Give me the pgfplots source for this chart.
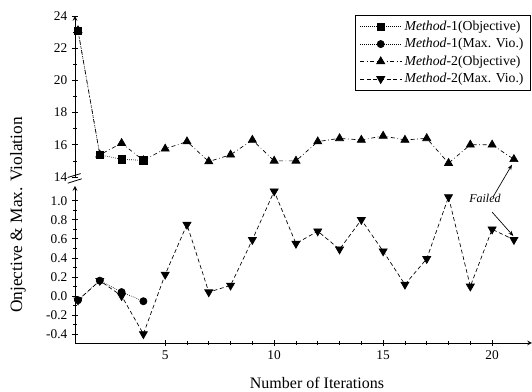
\documentclass[border=0pt]{standalone}
\usepackage{fontspec}
\setmainfont{Liberation Serif}
\usepackage{pgfplots}
\pgfplotsset{compat=1.18}
\usetikzlibrary{arrows.meta}
\begin{document}
\begin{tikzpicture}
\useasboundingbox (0,0) rectangle (399pt,294pt);
\pgfplotsset{
  common/.style={
    scale only axis, anchor=south west, width=342.75pt,
    xmin=0.862, xmax=21.83,
    axis line style={-, line width=0.6pt, black},
    tick align=outside, tick style={black, line width=0.5pt},
    major tick length=4.5pt, minor tick length=2.5pt,
    tick label style={font=\fontsize{10}{12}\selectfont},
    /pgf/number format/assume math mode=true,
    clip=false,
  },
  m1obj/.style={black, line width=0.5pt, densely dotted, mark=square*, mark size=2.7pt, mark options={solid}},
  m1vio/.style={black, line width=0.5pt, densely dotted, mark=*, mark size=2.7pt, mark options={solid}},
  m2obj/.style={black, line width=0.5pt, dash dot, mark=triangle*, mark size=3.5pt, mark options={solid}},
  m2vio/.style={black, line width=0.5pt, densely dashed, mark=triangle*, mark size=3.5pt, mark options={solid, rotate=180}},
}
% upper panel
\begin{axis}[common,
  at={(56.25pt,161.25pt)}, height=120.75pt,
  ymin=14, ymax=24,
  axis x line=none, axis y line=left, xtick=\empty,
  ytick={14,16,18,20,22,24}, yticklabels={14,16,18,20,22,24}, minor y tick num=1,
  legend image code/.code={\draw[mark repeat=2,mark phase=2] plot coordinates {(0cm,0cm) (0.55cm,0cm) (1.1cm,0cm)};},
  legend style={at={(0.997,1.005)}, anchor=north east, draw=black, line width=0.6pt,
    font=\fontsize{10.3}{12}\selectfont, cells={anchor=west}, row sep=0.4pt, inner xsep=3pt, inner ysep=2pt},
]
\addlegendimage{m1obj}
\addlegendentry{\textit{Method}-1(Objective)}
\addlegendimage{m1vio}
\addlegendentry{\textit{Method}-1(Max. Vio.)}
\addlegendimage{m2obj}
\addlegendentry{\textit{Method}-2(Objective)}
\addlegendimage{m2vio}
\addlegendentry{\textit{Method}-2(Max. Vio.)}
\addplot[m2obj, forget plot] coordinates {
(1,23.1) (2,15.38) (3,16.1) (4,15.03) (5,15.75) (6,16.2) (7,14.96) (8,15.38)
(9,16.3) (10,15.0) (11,15.0) (12,16.2) (13,16.4) (14,16.3) (15,16.55) (16,16.3)
(17,16.4) (18,14.86) (19,16.0) (20,16.0) (21,15.1)};
\addplot[m1obj, forget plot] coordinates {(1,23.1) (2,15.38) (3,15.1) (4,15.03)};
\end{axis}
% lower panel
\begin{axis}[common,
  at={(56.25pt,36.75pt)}, height=117.75pt,
  ymin=-0.495, ymax=1.155,
  axis x line=bottom, axis y line=left,
  xtick={5,10,15,20}, minor x tick num=4,
  ytick={-0.4,-0.2,0,0.2,0.4,0.6,0.8,1.0}, minor y tick num=1,
  yticklabel style={/pgf/number format/.cd, fixed, fixed zerofill, precision=1},
]
\addplot[m2vio] coordinates {
(1,-0.045) (2,0.16) (3,0.0) (4,-0.40) (5,0.225) (6,0.75) (7,0.04) (8,0.11)
(9,0.59) (10,1.10) (11,0.55) (12,0.68) (13,0.49) (14,0.80) (15,0.47) (16,0.12)
(17,0.39) (18,1.04) (19,0.10) (20,0.70) (21,0.59)};
\addplot[m1vio] coordinates {(1,-0.045) (2,0.16) (3,0.04) (4,-0.056)};
\node[font=\fontsize{9}{11}\selectfont\itshape] at (axis cs:19.67,1.02) {Failed};
\end{axis}
% axis break marks
\draw[line width=0.6pt] (50.8pt,160.9pt) -- (60.5pt,163.8pt);
\draw[line width=0.6pt] (50.8pt,156.6pt) -- (61.3pt,159.9pt);
% failed arrows
\draw[line width=0.5pt, -{Stealth[length=4pt,width=3pt]}] (369.75pt,146.25pt) -- (384pt,170.5pt);
\draw[line width=0.5pt, -{Stealth[length=4pt,width=3pt]}] (369pt,135pt) -- (385pt,117pt);
% labels
\node[rotate=90, font=\fontsize{13}{15}\selectfont] at (13.5pt,132.75pt) {Onjective \& Max. Violation};
\node[font=\fontsize{12}{14}\selectfont] at (237.75pt,6.75pt) {Number of Iterations};
\end{tikzpicture}
\end{document}
